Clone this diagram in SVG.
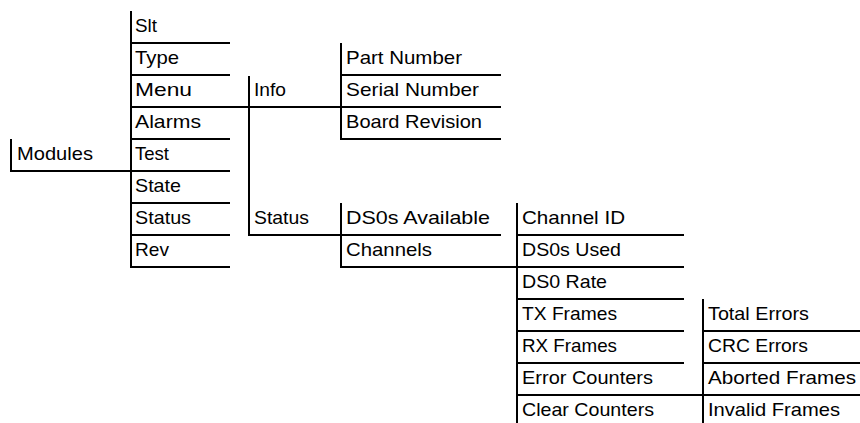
<svg xmlns="http://www.w3.org/2000/svg" width="860" height="423" viewBox="0 0 860 423">
<style>
.c line{stroke:#000;stroke-width:2;stroke-linecap:square;fill:none}
text{font-family:"Liberation Sans",Arial,sans-serif;font-size:19px;fill:#000}
</style>
<rect width="860" height="423" fill="#fff"/>
<g id="connectors" class="c">
<line x1="11" y1="140" x2="11" y2="171"/>
<line x1="131" y1="12" x2="131" y2="267"/>
<line x1="249" y1="77" x2="249" y2="235"/>
<line x1="341" y1="44" x2="341" y2="139"/>
<line x1="341" y1="204" x2="341" y2="267"/>
<line x1="517" y1="204" x2="517" y2="424"/>
<line x1="703" y1="300" x2="703" y2="424"/>
<line x1="131" y1="43" x2="229" y2="43"/>
<line x1="131" y1="75" x2="229" y2="75"/>
<line x1="131" y1="107" x2="500" y2="107"/>
<line x1="131" y1="139" x2="229" y2="139"/>
<line x1="11" y1="171" x2="229" y2="171"/>
<line x1="131" y1="203" x2="229" y2="203"/>
<line x1="131" y1="235" x2="229" y2="235"/>
<line x1="131" y1="267" x2="229" y2="267"/>
<line x1="341" y1="75" x2="500" y2="75"/>
<line x1="341" y1="139" x2="500" y2="139"/>
<line x1="249" y1="235" x2="500" y2="235"/>
<line x1="341" y1="267" x2="683" y2="267"/>
<line x1="517" y1="235" x2="683" y2="235"/>
<line x1="517" y1="299" x2="683" y2="299"/>
<line x1="517" y1="331" x2="683" y2="331"/>
<line x1="517" y1="363" x2="683" y2="363"/>
<line x1="517" y1="395" x2="859" y2="395"/>
<line x1="703" y1="331" x2="859" y2="331"/>
<line x1="703" y1="363" x2="859" y2="363"/>
</g>
<g id="modules"><text x="17" y="160" textLength="76" lengthAdjust="spacingAndGlyphs">Modules</text></g>
<g id="slt"><text x="135" y="32" textLength="22" lengthAdjust="spacingAndGlyphs">Slt</text></g>
<g id="type"><text x="135" y="64" textLength="44" lengthAdjust="spacingAndGlyphs">Type</text></g>
<g id="menu"><text x="135" y="96" textLength="57" lengthAdjust="spacingAndGlyphs">Menu</text></g>
<g id="alarms"><text x="135" y="128" textLength="66" lengthAdjust="spacingAndGlyphs">Alarms</text></g>
<g id="test"><text x="135" y="160" textLength="34" lengthAdjust="spacingAndGlyphs">Test</text></g>
<g id="state"><text x="135" y="192" textLength="46" lengthAdjust="spacingAndGlyphs">State</text></g>
<g id="status"><text x="135" y="224" textLength="56" lengthAdjust="spacingAndGlyphs">Status</text></g>
<g id="rev"><text x="135" y="256" textLength="34" lengthAdjust="spacingAndGlyphs">Rev</text></g>
<g id="info"><text x="254" y="96" textLength="32" lengthAdjust="spacingAndGlyphs">Info</text></g>
<g id="menu-status"><text x="254" y="224" textLength="55" lengthAdjust="spacingAndGlyphs">Status</text></g>
<g id="part-number"><text x="346" y="64" textLength="116" lengthAdjust="spacingAndGlyphs">Part Number</text></g>
<g id="serial-number"><text x="346" y="96" textLength="133" lengthAdjust="spacingAndGlyphs">Serial Number</text></g>
<g id="board-revision"><text x="346" y="128" textLength="136" lengthAdjust="spacingAndGlyphs">Board Revision</text></g>
<g id="ds0s-available"><text x="346" y="224" textLength="144" lengthAdjust="spacingAndGlyphs">DS0s Available</text></g>
<g id="channels"><text x="346" y="256" textLength="86" lengthAdjust="spacingAndGlyphs">Channels</text></g>
<g id="channel-id"><text x="522" y="224" textLength="103" lengthAdjust="spacingAndGlyphs">Channel ID</text></g>
<g id="ds0s-used"><text x="522" y="256" textLength="99" lengthAdjust="spacingAndGlyphs">DS0s Used</text></g>
<g id="ds0-rate"><text x="522" y="288" textLength="85" lengthAdjust="spacingAndGlyphs">DS0 Rate</text></g>
<g id="tx-frames"><text x="522" y="320" textLength="95" lengthAdjust="spacingAndGlyphs">TX Frames</text></g>
<g id="rx-frames"><text x="522" y="352" textLength="95" lengthAdjust="spacingAndGlyphs">RX Frames</text></g>
<g id="error-counters"><text x="522" y="384" textLength="131" lengthAdjust="spacingAndGlyphs">Error Counters</text></g>
<g id="clear-counters"><text x="522" y="416" textLength="132" lengthAdjust="spacingAndGlyphs">Clear Counters</text></g>
<g id="total-errors"><text x="708" y="320" textLength="101" lengthAdjust="spacingAndGlyphs">Total Errors</text></g>
<g id="crc-errors"><text x="708" y="352" textLength="100" lengthAdjust="spacingAndGlyphs">CRC Errors</text></g>
<g id="aborted-frames"><text x="708" y="384" textLength="148" lengthAdjust="spacingAndGlyphs">Aborted Frames</text></g>
<g id="invalid-frames"><text x="708" y="416" textLength="132" lengthAdjust="spacingAndGlyphs">Invalid Frames</text></g>
</svg>
